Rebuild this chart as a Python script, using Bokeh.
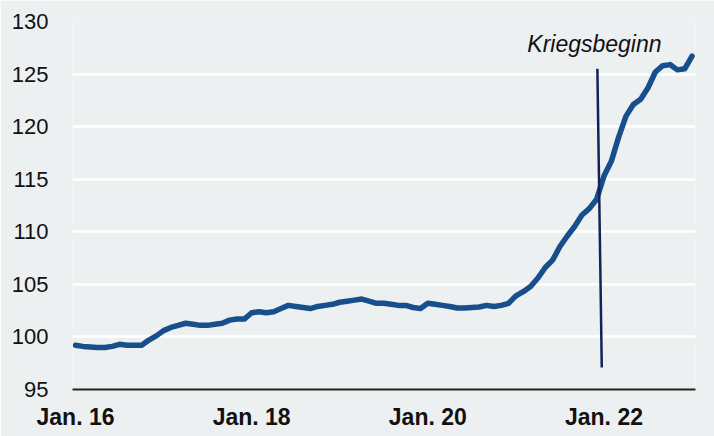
from bokeh.plotting import figure
from bokeh.models import Range1d, FixedTicker, ColumnDataSource
from bokeh.core.properties import value
from bokeh.embed import file_html
from bokeh.resources import INLINE

# Monthly index Jan 2016 .. Jan 2023
index_values = [
    99.2, 99.1, 99.05, 99.0, 99.0, 99.1, 99.3, 99.2, 99.2, 99.2, 99.7, 100.1,
    100.6, 100.9, 101.1, 101.3, 101.2, 101.1, 101.1, 101.2, 101.3, 101.6, 101.7, 101.7,
    102.3, 102.4, 102.3, 102.4, 102.7, 103.0, 102.9, 102.8, 102.7, 102.9, 103.0, 103.1,
    103.3, 103.4, 103.5, 103.6, 103.4, 103.2, 103.2, 103.1, 103.0, 103.0, 102.8, 102.7,
    103.2, 103.1, 103.0, 102.9, 102.75, 102.75, 102.8, 102.85, 103.0, 102.9, 103.0, 103.2,
    103.9, 104.3, 104.8, 105.6, 106.6, 107.3, 108.6, 109.6, 110.5, 111.6, 112.2, 113.1,
    115.3, 116.7, 119.0, 121.0, 122.1, 122.6, 123.7, 125.2, 125.8, 125.9, 125.4, 125.5,
    126.7,
]
months = list(range(len(index_values)))

tick_positions = [0, 24, 48, 72]
tick_labels = ["Jan. 16", "Jan. 18", "Jan. 20", "Jan. 22"]
y_ticks = [95, 100, 105, 110, 115, 120, 125, 130]

war_label = "Kriegsbeginn"
war_x = [71.1, 71.7]
war_y = [125.5, 97.1]
war_label_pos = (70.7, 127.9)

BG = "#edf0f1"
LINE = "#174e8c"

p = figure(width=714, height=436, output_backend="svg", toolbar_location=None,
           x_range=Range1d(-0.41, 84.47), y_range=Range1d(95, 130),
           min_border_left=72, min_border_right=19, min_border_top=21, min_border_bottom=47)
p.background_fill_color = BG
p.border_fill_color = BG
p.outline_line_color = None

p.xgrid.grid_line_color = None
p.ygrid.grid_line_color = "white"
p.ygrid.grid_line_width = 2.5
p.ygrid.ticker = FixedTicker(ticks=y_ticks)

p.yaxis.ticker = FixedTicker(ticks=y_ticks)
p.yaxis.axis_line_color = None
p.yaxis.major_tick_line_color = None
p.yaxis.minor_tick_line_color = None
p.yaxis.major_label_standoff = 18
p.yaxis.major_label_text_font = "Liberation Sans"
p.yaxis.major_label_text_font_size = "22px"
p.yaxis.major_label_text_color = "#111111"

p.xaxis.ticker = FixedTicker(ticks=tick_positions)
p.xaxis.major_label_overrides = {t: l for t, l in zip(tick_positions, tick_labels)}
p.xaxis.axis_line_color = "#222222"
p.xaxis.axis_line_width = 2
p.xaxis.major_tick_line_color = None
p.xaxis.minor_tick_line_color = None
p.xaxis.major_label_standoff = 8
p.xaxis.major_label_text_font = "Liberation Sans"
p.xaxis.major_label_text_font_size = "23px"
p.xaxis.major_label_text_font_style = "bold"
p.xaxis.major_label_text_color = "#111111"

src = ColumnDataSource(dict(x=months, y=index_values))
p.line("x", "y", source=src, line_color=LINE, line_width=5.5, line_join="round", line_cap="round")

p.segment(x0=[war_x[0]], y0=[war_y[0]], x1=[war_x[1]], y1=[war_y[1]],
          line_color="#13235a", line_width=2.5)
p.text(x=[war_label_pos[0]], y=[war_label_pos[1]], text=[war_label],
       text_font=value("Liberation Sans"), text_font_size="23px", text_font_style="italic",
       text_align="center", text_baseline="middle", text_color="#111111")

open("out.html", "w").write(file_html(p, INLINE))
